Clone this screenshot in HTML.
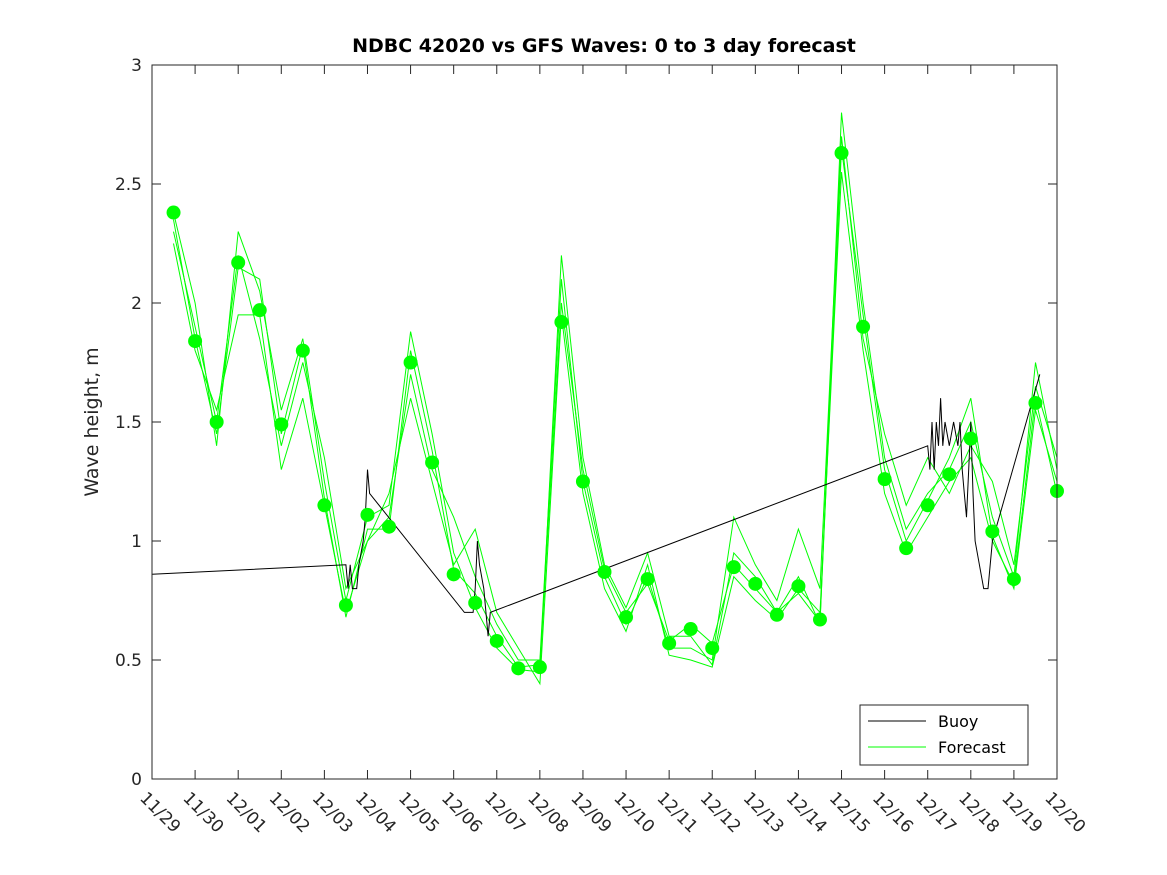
<!DOCTYPE html>
<html><head><meta charset="utf-8"><style>
body{margin:0;background:#fff}
svg{display:block;font-family:"DejaVu Sans","Liberation Sans",sans-serif}
</style></head><body>
<svg id="chart" width="1167" height="875" viewBox="0 0 1167 875">
<rect width="1167" height="875" fill="#fff"/>
<text x="604" y="52" text-anchor="middle" font-size="19" font-weight="bold" fill="#000">NDBC 42020 vs GFS Waves: 0 to 3 day forecast</text>
<g id="grid"></g>
<g id="series"></g>
<rect x="152" y="65" width="905" height="714" fill="none" stroke="#262626" stroke-width="1"/>
<g id="axes"></g>
<text transform="translate(98,422) rotate(-90)" text-anchor="middle" font-size="19" fill="#262626">Wave height, m</text>
<g>
<rect x="860" y="705" width="168" height="60" fill="#fff" stroke="#262626"/>
<line x1="868" y1="721" x2="926" y2="721" stroke="#000"/>
<text x="938" y="727" font-size="16" fill="#000">Buoy</text>
<line x1="868" y1="747" x2="926" y2="747" stroke="#00ff00"/>
<text x="938" y="753" font-size="16" fill="#000">Forecast</text>
</g>
</svg>
<script>
const dayLabels=["11/29","11/30","12/01","12/02","12/03","12/04","12/05","12/06","12/07","12/08","12/09","12/10","12/11","12/12","12/13","12/14","12/15","12/16","12/17","12/18","12/19","12/20"];
const yTicks=[0,0.5,1,1.5,2,2.5,3];
const dotValues=[2.38,1.84,1.5,2.17,1.97,1.49,1.80,1.15,0.73,1.11,1.06,1.75,1.33,0.86,0.74,0.58,0.465,0.47,1.92,1.25,0.87,0.68,0.84,0.57,0.63,0.55,0.89,0.82,0.69,0.81,0.67,2.63,1.90,1.26,0.97,1.15,1.28,1.43,1.04,0.84,1.58,1.21];
const fcA=[2.38,2.0,1.4,2.3,2.05,1.55,1.85,1.25,0.75,1.1,1.15,1.88,1.45,0.95,0.72,0.55,0.46,0.45,2.2,1.35,0.9,0.72,0.95,0.6,0.6,0.48,0.95,0.85,0.7,0.85,0.65,2.8,2.0,1.35,1.05,1.2,1.3,1.5,1.1,0.85,1.75,1.3];
const fcB=[2.3,1.9,1.5,2.2,1.85,1.4,1.75,1.35,0.8,1.0,1.1,1.7,1.3,1.1,0.85,0.65,0.5,0.5,2.1,1.25,0.85,0.65,0.85,0.55,0.55,0.5,1.1,0.9,0.75,1.05,0.8,2.7,1.85,1.45,1.15,1.35,1.2,1.4,1.25,0.9,1.65,1.35];
const fcC=[2.25,1.8,1.55,1.95,1.95,1.3,1.6,1.15,0.7,1.0,1.2,1.6,1.25,0.9,1.05,0.7,0.55,0.4,1.95,1.2,0.8,0.62,0.9,0.52,0.5,0.47,0.85,0.75,0.67,0.8,0.7,2.55,1.8,1.2,0.95,1.1,1.25,1.35,1.0,0.82,1.6,1.2];
const fcD=[2.35,1.85,1.45,2.15,2.1,1.45,1.82,1.18,0.68,1.05,1.05,1.8,1.38,0.88,0.78,0.6,0.47,0.48,2.0,1.3,0.88,0.7,0.82,0.58,0.65,0.57,0.9,0.8,0.7,0.78,0.66,2.65,1.95,1.3,1.0,1.17,1.35,1.6,1.02,0.8,1.55,1.25];
const buoyDays=[0,4.5,4.55,4.6,4.65,4.75,4.8,4.9,4.95,5.0,5.05,7.25,7.45,7.5,7.55,7.6,7.7,7.8,7.85,18.0,18.05,18.1,18.15,18.2,18.25,18.3,18.35,18.4,18.5,18.6,18.7,18.75,18.8,18.85,18.9,18.95,19.0,19.05,19.1,19.2,19.3,19.4,19.45,19.5,20.6];
const buoyValues=[0.86,0.90,0.8,0.9,0.8,0.8,0.9,1.0,1.1,1.3,1.2,0.70,0.70,0.8,1.0,0.9,0.8,0.6,0.7,1.40,1.3,1.5,1.3,1.5,1.4,1.6,1.4,1.5,1.4,1.5,1.4,1.5,1.3,1.2,1.1,1.3,1.5,1.2,1.0,0.9,0.8,0.8,0.9,1.0,1.7];
const NS="http://www.w3.org/2000/svg";
const xS=d=>152+d*(905/21);
const yS=v=>779-v*238;
function mk(tag,attrs,parent){const e=document.createElementNS(NS,tag);for(const k in attrs)e.setAttribute(k,attrs[k]);parent.appendChild(e);return e;}
const axes=document.getElementById('axes');
const series=document.getElementById('series');
dayLabels.forEach((lab,i)=>{
  const x=xS(i);
  const t1=mk('line',{x1:x,y1:779,x2:x,y2:770,stroke:'#262626'},axes);
  
  
  mk('line',{x1:x,y1:65,x2:x,y2:74,stroke:'#262626'},axes);
  const t=mk('text',{transform:`translate(${x-13},${799}) rotate(45)`,'font-size':'17',fill:'#262626'},axes);
  t.textContent=lab;
  
  
});
yTicks.forEach(v=>{
  const y=yS(v);
  mk('line',{x1:152,y1:y,x2:161,y2:y,stroke:'#262626'},axes);
  mk('line',{x1:1057,y1:y,x2:1048,y2:y,stroke:'#262626'},axes);
  const t=mk('text',{x:142,y:y+6,'text-anchor':'end','font-size':'17',fill:'#262626'},axes);
  t.textContent=String(v);
  
  
});
function pathFrom(days,vals){return vals.map((v,i)=>(i?'L':'M')+xS(days[i]).toFixed(1)+','+yS(v).toFixed(1)).join(' ');}
const halfDays=dotValues.map((_,i)=>0.5+i*0.5);
[fcA,fcB,fcC,fcD].forEach((arr,k)=>{
  const p=mk('path',{d:pathFrom(halfDays,arr),fill:'none',stroke:'#00ff00','stroke-width':'1'},series);
  
  
});
const bp=mk('path',{d:pathFrom(buoyDays,buoyValues),fill:'none',stroke:'#000','stroke-width':'1'},series);


dotValues.forEach((v,i)=>{
  const c=mk('circle',{cx:xS(halfDays[i]),cy:yS(v),r:7,fill:'#00ff00'},series);
  
  
});
</script>
</body></html>
